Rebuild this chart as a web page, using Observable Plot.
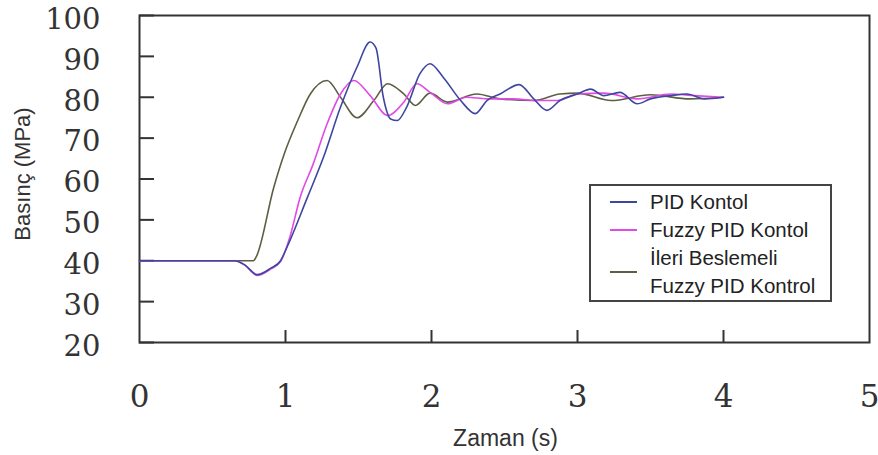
<!DOCTYPE html>
<html><head><meta charset="utf-8">
<script src="https://cdn.jsdelivr.net/npm/d3@7"></script>
<script src="https://cdn.jsdelivr.net/npm/@observablehq/plot@0.6"></script>
<style>
body{margin:0;background:#fff;}
#wrap{position:relative;width:878px;height:455px;}
#legend{position:absolute;left:589px;top:184px;width:243px;height:118px;box-sizing:border-box;border:2px solid #444;background:#fff;padding-top:2px;font-family:"Liberation Sans",Arial,sans-serif;font-size:20.5px;color:#222;}
.item{position:relative;line-height:28px;padding-left:59px;white-space:nowrap;}
.sw{position:absolute;left:19px;width:27px;height:0;border-top:2px solid;top:50%;margin-top:-1px;}
</style></head><body><div id="wrap"></div>
<script>
// ---- data ----
const seriesNames = ["PID Kontol", "Fuzzy PID Kontol", "İleri Beslemeli Fuzzy PID Kontrol"];
const legendLines = [["PID Kontol"], ["Fuzzy PID Kontol"], ["İleri Beslemeli", "Fuzzy PID Kontrol"]];
const seriesColors = ["#3f469e", "#e04ae6", "#5e5e44"];

const pidT = [0, 0.65, 0.72, 0.806, 0.90, 0.966, 1.01, 1.15, 1.26, 1.377, 1.49, 1.58, 1.62, 1.67, 1.72, 1.765, 1.83, 1.92, 1.99, 2.08, 2.2, 2.30, 2.38, 2.47, 2.6, 2.70, 2.79, 2.88, 3.0, 3.09, 3.18, 3.29, 3.41, 3.5, 3.64, 3.75, 3.87, 4.0];
const pidV = [40, 40, 39, 36.6, 38.2, 40, 43.3, 55.5, 65.3, 77.6, 87.4, 93.5, 92, 80, 74.7, 74.3, 77.6, 85.7, 88.2, 84.9, 79.2, 76, 79.2, 80.8, 83.1, 79.6, 76.8, 79.2, 80.8, 82, 80.4, 81.2, 78.4, 79.6, 80.4, 80.8, 79.6, 80];

const fuzzyT = [0, 0.65, 0.72, 0.806, 0.90, 0.966, 1.03, 1.10, 1.19, 1.285, 1.377, 1.468, 1.58, 1.70, 1.81, 1.90, 1.99, 2.11, 2.24, 2.38, 2.56, 2.72, 2.86, 3.0, 3.18, 3.41, 3.64, 3.8, 4.0];
const fuzzyV = [40, 40, 39, 36.4, 38, 39.8, 45.8, 55.5, 63.7, 73.5, 80.8, 84.1, 80.4, 75.5, 78.8, 83.3, 81.2, 78.4, 80, 79.6, 79.6, 79.2, 79.2, 80.8, 81, 79.6, 80.8, 80.4, 80];

const ffT = [0, 0.78, 0.80, 0.92, 0.99, 1.08, 1.17, 1.285, 1.377, 1.49, 1.605, 1.70, 1.81, 1.89, 1.99, 2.11, 2.31, 2.47, 2.70, 2.88, 3.0, 3.23, 3.5, 3.77, 4.0];
const ffV = [40, 40, 41, 58, 66, 74, 80.8, 84.1, 80, 75, 79.2, 83.3, 80.8, 78, 81, 78.8, 80.8, 79.6, 79.2, 80.8, 81, 79.2, 80.6, 79.6, 80];

const xTicks = [0, 1, 2, 3, 4, 5];
const yTicks = [20, 30, 40, 50, 60, 70, 80, 90, 100];
const xLabel = "Zaman (s)";
const yLabel = "Basınç (MPa)";

// ---- build table ----
const rows = [];
[[pidT, pidV], [fuzzyT, fuzzyV], [ffT, ffV]].forEach(([T, V], k) => {
  T.forEach((t, i) => rows.push({series: seriesNames[k], t, v: V[i]}));
});
const drawOrder = [seriesNames[2], seriesNames[1], seriesNames[0]];

const chart = Plot.plot({
  width: 878,
  height: 455,
  marginLeft: 139,
  marginRight: 9,
  marginTop: 15,
  marginBottom: 113,
  style: {overflow: "visible"},
  x: {domain: [0, 5]},
  y: {domain: [20, 100]},
  color: {domain: seriesNames, range: seriesColors},
  marks: [
    Plot.frame({stroke: "#333", strokeWidth: 2}),
    Plot.axisY({ticks: yTicks, tickSize: -15, tickFormat: () => "", label: null, stroke: "#333", strokeWidth: 2}),
    Plot.axisX({ticks: xTicks.slice(1, -1), tickSize: -12, tickFormat: () => "", label: null, stroke: "#333", strokeWidth: 2}),
    Plot.axisY({ticks: yTicks, tickSize: 0, tickPadding: 39, dy: 4, tickFormat: d3.format("d"), label: null, fontSize: 29, fontFamily: "DejaVu Serif", fill: "#333"}),
    Plot.axisX({ticks: xTicks, tickSize: 0, tickPadding: 42, tickFormat: d3.format("d"), label: null, fontSize: 31, fontFamily: "DejaVu Serif", fill: "#333"}),
    Plot.text([yLabel], {frameAnchor: "left", textAnchor: "middle", lineAnchor: "middle", rotate: -90, dx: -117, dy: -5, fontSize: 22, fontFamily: "Liberation Sans", fill: "#333"}),
    Plot.text([xLabel], {frameAnchor: "bottom", textAnchor: "middle", lineAnchor: "middle", dx: 1, dy: 96, fontSize: 23, fontFamily: "Liberation Sans", fill: "#333"}),
    Plot.line(rows, {x: "t", y: "v", z: "series", stroke: "series", strokeWidth: 1.6, curve: "monotone-x", sort: (d) => drawOrder.indexOf(d.series)})
  ]
});
const wrap = document.getElementById("wrap");
wrap.appendChild(chart);

const legend = document.createElement("div");
legend.id = "legend";
legendLines.forEach((lines, k) => {
  const item = document.createElement("div");
  item.className = "item";
  item.innerHTML = lines.join("<br>");
  const sw = document.createElement("span");
  sw.className = "sw";
  sw.style.borderTopColor = seriesColors[k];
  item.appendChild(sw);
  legend.appendChild(item);
});
wrap.appendChild(legend);
</script>
</body></html>
